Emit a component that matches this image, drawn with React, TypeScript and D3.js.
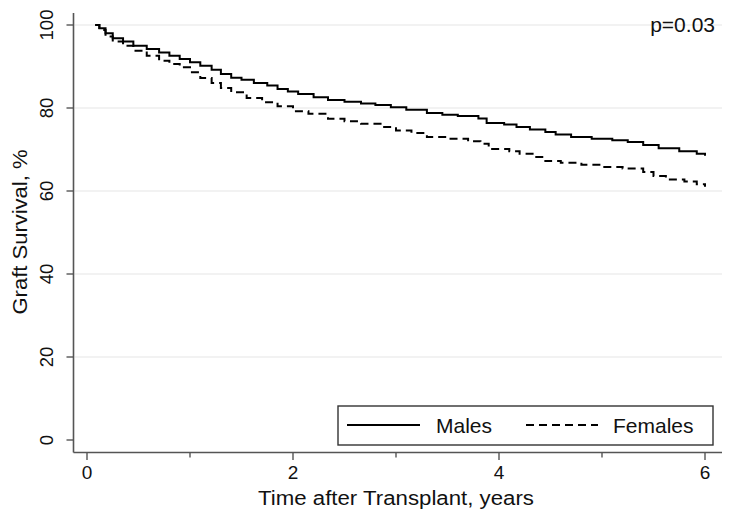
import React from "react";
import * as d3 from "d3";

const malesTime = [0.08, 0.12, 0.18, 0.25, 0.35, 0.45, 0.58, 0.7, 0.8, 0.9, 1.0, 1.1, 1.21, 1.3, 1.4, 1.5, 1.62, 1.75, 1.85, 1.95, 2.05, 2.2, 2.34, 2.5, 2.66, 2.8, 2.95, 3.1, 3.3, 3.45, 3.6, 3.8, 3.88, 4.05, 4.17, 4.3, 4.45, 4.55, 4.7, 4.9, 5.1, 5.25, 5.4, 5.55, 5.75, 5.92, 6.0];
const malesSurv = [100, 99.2, 98, 96.8, 96, 95, 94.2, 93.4, 92.6, 91.8, 91, 90.2, 89.2, 88.2, 87.3, 86.8, 86, 85.4, 84.6, 84, 83.4, 82.6, 81.9, 81.5, 81.1, 80.7, 80.2, 79.6, 78.8, 78.4, 78.1, 77.5, 76.4, 76, 75.4, 74.8, 74.2, 73.6, 73, 72.6, 72.2, 71.8, 71.1, 70.3, 69.6, 69, 68.5];

const femalesTime = [0.08, 0.12, 0.18, 0.25, 0.35, 0.45, 0.58, 0.7, 0.8, 0.9, 1.0, 1.1, 1.21, 1.3, 1.4, 1.55, 1.7, 1.85, 2.0, 2.15, 2.34, 2.5, 2.66, 2.85, 3.0, 3.15, 3.3, 3.5, 3.7, 3.82, 3.9, 4.1, 4.2, 4.35, 4.45, 4.6, 4.8, 5.0, 5.2, 5.4, 5.5, 5.62, 5.8, 5.92, 6.0];
const femalesSurv = [100, 98.8, 97.2, 96, 95, 93.8, 92.6, 91.4, 90.6, 89.8, 88.6, 87.2, 86, 84.8, 83.8, 82.4, 81.4, 80.4, 79.2, 78.6, 77.4, 76.8, 76.2, 75.4, 74.6, 74, 73, 72.6, 72, 71.4, 70.1, 69.6, 69, 68.2, 67.2, 66.8, 66.3, 65.8, 65.4, 64.6, 63.6, 62.8, 62.3, 61.6, 61];

const xMajorTicks = [0, 2, 4, 6];
const xMinorTicks = [1, 3, 5];
const yTicks = [0, 20, 40, 60, 80, 100];
const seriesNames = ["Males", "Females"];
const pValueLabel = "p=0.03";
const xTitle = "Time after Transplant, years";
const yTitle = "Graft Survival, %";

const FONT = "'Liberation Sans', Arial, Helvetica, sans-serif";

export default function App() {
  const W = 729, H = 521;
  const axisX = 73.5, axisY = 452.5, right = 722, top = 13;
  const x = d3.scaleLinear().domain([0, 6]).range([87, 705]);
  const y = d3.scaleLinear().domain([0, 100]).range([440, 25]);
  const line = d3.line<[number, number]>().x(d => x(d[0])).y(d => y(d[1])).curve(d3.curveStepAfter);
  const males: [number, number][] = malesTime.map((t, i) => [t, malesSurv[i]]);
  const females: [number, number][] = femalesTime.map((t, i) => [t, femalesSurv[i]]);
  const axisColor = "#555";

  return (
    <svg width={W} height={H} style={{ position: "absolute", left: 0, top: 0, background: "#fff" }} fontFamily={FONT}>
      <rect x={0} y={0} width={W} height={H} fill="#fff" />
      {yTicks.filter(v => v > 0).map(v => (
        <line key={"g" + v} x1={axisX + 1} x2={right} y1={y(v)} y2={y(v)} stroke="#e6e6e6" strokeWidth={1.2} />
      ))}
      <path d={line(males) || ""} fill="none" stroke="#000" strokeWidth={2} />
      <path d={line(females) || ""} fill="none" stroke="#000" strokeWidth={2} strokeDasharray="8,5" />
      <line x1={axisX} x2={axisX} y1={top} y2={axisY} stroke={axisColor} strokeWidth={1.6} />
      <line x1={axisX} x2={right} y1={axisY} y2={axisY} stroke={axisColor} strokeWidth={1.6} />
      {yTicks.map(v => (
        <g key={"y" + v}>
          <line x1={axisX - 7} x2={axisX} y1={y(v)} y2={y(v)} stroke={axisColor} strokeWidth={1.4} />
          <text transform={`translate(53,${y(v)}) rotate(-90)`} textAnchor="middle" fontSize={18.5} fill="#111">{v}</text>
        </g>
      ))}
      {xMajorTicks.map(v => (
        <g key={"x" + v}>
          <line x1={x(v)} x2={x(v)} y1={axisY} y2={axisY + 7.5} stroke={axisColor} strokeWidth={1.4} />
          <text x={x(v)} y={479} textAnchor="middle" fontSize={19} fill="#111">{v}</text>
        </g>
      ))}
      {xMinorTicks.map(v => (
        <line key={"m" + v} x1={x(v)} x2={x(v)} y1={axisY} y2={axisY + 5} stroke={axisColor} strokeWidth={1.4} />
      ))}
      <text x={396} y={505} textAnchor="middle" fontSize={20} textLength={276} lengthAdjust="spacingAndGlyphs" fill="#111">{xTitle}</text>
      <text transform={`translate(27,232) rotate(-90)`} textAnchor="middle" fontSize={20} textLength={165} lengthAdjust="spacingAndGlyphs" fill="#111">{yTitle}</text>
      <text x={715} y={32} textAnchor="end" fontSize={21} fill="#111">{pValueLabel}</text>
      <rect x={338} y={406} width={375} height={39} fill="#fff" stroke="#333" strokeWidth={1.4} />
      <line x1={347} x2={420} y1={425} y2={425} stroke="#000" strokeWidth={2} />
      <text x={436} y={433} fontSize={21} fill="#111">{seriesNames[0]}</text>
      <line x1={526} x2={598} y1={425} y2={425} stroke="#000" strokeWidth={2} strokeDasharray="8,5" />
      <text x={613} y={433} fontSize={21} fill="#111">{seriesNames[1]}</text>
    </svg>
  );
}
